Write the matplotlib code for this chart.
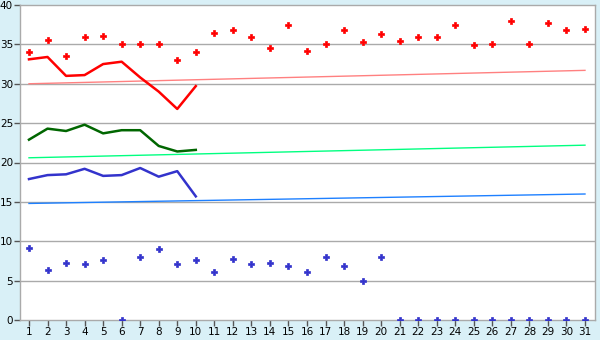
import numpy as np
import matplotlib
matplotlib.use("Agg")
import matplotlib.pyplot as plt

days = list(range(1, 32))

# scattered daily readings
red_points = [34.0, 35.6, 33.5, 35.9, 36.1, 35.0, 35.0, 35.0, 33.0, 34.0,
              36.4, 36.8, 36.0, 34.6, 37.4, 34.2, 35.0, 36.8, 35.3, 36.3,
              35.4, 36.0, 36.0, 37.4, 34.9, 35.1, 38.0, 35.0, 37.7, 36.8, 37.0]
blue_points = [9.2, 6.4, 7.3, 7.1, 7.6, 0.0, 8.0, 9.0, 7.1, 7.6,
               6.1, 7.8, 7.1, 7.3, 6.8, 6.1, 8.0, 6.8, 5.0, 8.0,
               0.0, 0.0, 0.0, 0.0, 0.0, 0.0, 0.0, 0.0, 0.0, 0.0, 0.0]

# lines for the first ten days
line_days = list(range(1, 11))
red_line = [33.1, 33.4, 31.0, 31.1, 32.5, 32.8, 30.8, 29.0, 26.8, 29.7]
green_line = [22.9, 24.3, 24.0, 24.8, 23.7, 24.1, 24.1, 22.1, 21.4, 21.6]
blue_line = [17.9, 18.4, 18.5, 19.2, 18.3, 18.4, 19.3, 18.2, 18.9, 15.7]

# trend lines (start / end)
trend_days = [1, 31]
red_trend = [30.0, 31.7]
green_trend = [20.6, 22.2]
blue_trend = [14.8, 16.0]

bg = "#d9f0f7"
grid_c = "#aaaaaa"

fig = plt.figure(figsize=(6, 3.4), dpi=100, facecolor=bg)
ax = fig.add_axes([20 / 600, 20 / 340, 575 / 600, 315 / 340])
ax.set_facecolor("white")

for y in range(5, 40, 5):
    ax.axhline(y, color=grid_c, lw=1, zorder=1)

ax.plot(trend_days, red_trend, color="#ff8080", lw=1, zorder=2)
ax.plot(trend_days, green_trend, color="#00ff80", lw=1, zorder=2)
ax.plot(trend_days, blue_trend, color="#1e80ff", lw=1, zorder=2)

ax.plot(line_days, red_line, color="#ff0000", lw=1.8, zorder=3)
ax.plot(line_days, green_line, color="#006600", lw=1.8, zorder=3)
ax.plot(line_days, blue_line, color="#3333cc", lw=1.8, zorder=3)

ax.plot(days, red_points, ls="none", marker="P", ms=4, color="#ff0000",
        mec="#ff0000", mew=0.5, zorder=4)
ax.plot(days, blue_points, ls="none", marker="P", ms=4, color="#3333cc",
        mec="#3333cc", mew=0.5, zorder=4)

ax.set_xlim(0.515, 31.54)
ax.set_ylim(0, 40)
ax.set_xticks(days)
ax.set_yticks(range(0, 41, 5))
ax.tick_params(axis="both", labelcolor="#000000", labelsize=7.5, length=4,
               width=1, pad=1, color="#555555")

for s in ax.spines.values():
    s.set_color(grid_c)
    s.set_linewidth(1)

fig.savefig("out.png", dpi=100, facecolor=bg)
